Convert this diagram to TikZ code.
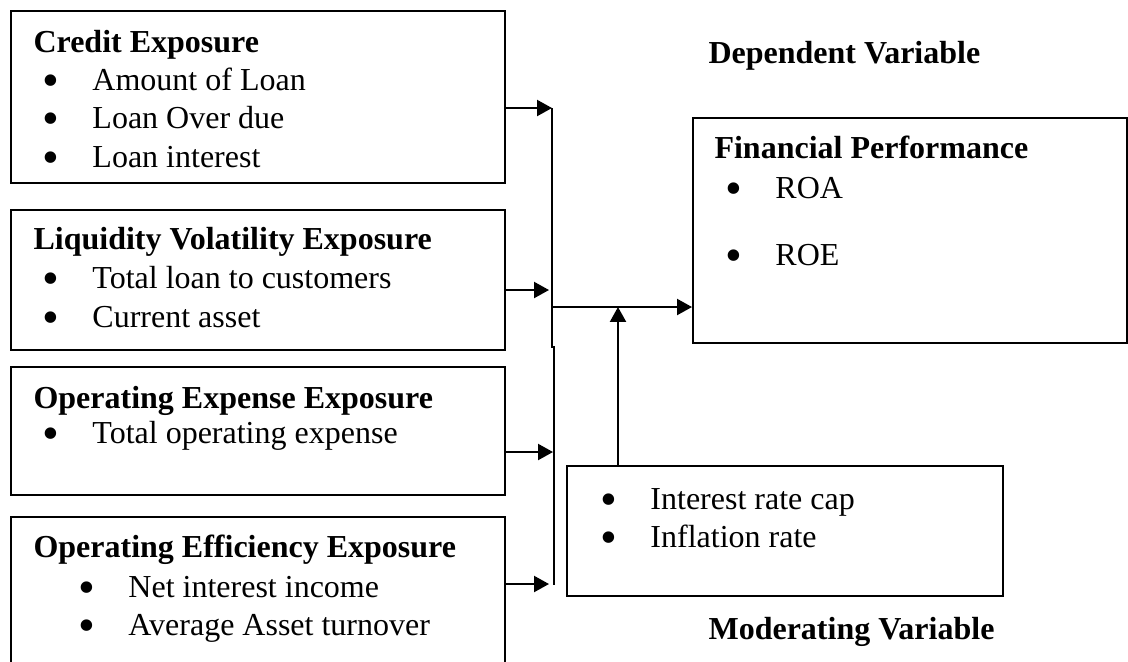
\documentclass[tikz,border=0pt]{standalone}
\usepackage{fontspec}
\setmainfont{Liberation Serif}
\usetikzlibrary{arrows.meta,fit}
\newcommand\blt{\makebox[17.6pt][l]{\hspace{-1.2pt}\smash{\raisebox{-2.4pt}{\scalebox{1.5}{\textbullet}}}}}

\begin{document}
\begin{tikzpicture}[x=0.375pt,y=-0.375pt,
    box/.style={draw,line width=0.75pt,inner sep=0pt},
    txt/.style={anchor=base west,inner sep=0pt,font=\fontsize{12}{14}\selectfont},
    head/.style={txt,font=\fontsize{12}{14}\selectfont\bfseries},
    arr/.style={line width=0.75pt,-{Triangle[length=5.6pt,width=6pt]}}]
    \useasboundingbox (0,0) rectangle (1128,661);
    % independent variables
    \node[box,fit={(11,11) (505,183)}] (credit) {};
    \node[head] (creditT) at (33,52) {Credit Exposure};
    \node[txt] (credit1) at (45,90) {\blt Amount of Loan};
    \node[txt] (credit2) at (45,128) {\blt Loan Over due};
    \node[txt] (credit3) at (45,167) {\blt Loan interest};

    \node[box,fit={(11,210) (505,350)}] (liq) {};
    \node[head] (liqT) at (33,249) {Liquidity Volatility Exposure};
    \node[txt] (liq1) at (45,288) {\blt Total loan to customers};
    \node[txt] (liq2) at (45,327) {\blt Current asset};

    \node[box,fit={(11,367) (505,495)}] (opex) {};
    \node[head] (opexT) at (33,408) {Operating Expense Exposure};
    \node[txt] (opex1) at (45,443) {\blt Total operating expense};

    \node[box,fit={(11,517) (505,700)}] (opeff) {};
    \node[head] (opeffT) at (33,557) {Operating Efficiency Exposure};
    \node[txt] (opeff1) at (81,597) {\blt Net interest income};
    \node[txt] (opeff2) at (81,635) {\blt Average Asset turnover};

    % dependent variable
    \node[head] (depT) at (708,63) {Dependent Variable};
    \node[box,fit={(693,118) (1127,343)}] (perf) {};
    \node[head] (perfT) at (714,158) {Financial Performance};
    \node[txt] (perf1) at (728,198) {\blt ROA};
    \node[txt] (perf2) at (728,265) {\blt ROE};

    % moderating variable
    \node[box,fit={(567,466) (1003,596)}] (moder) {};
    \node[txt] (moder1) at (603,509) {\blt Interest rate cap};
    \node[txt] (moder2) at (603,547) {\blt Inflation rate};
    \node[head] (moderT) at (708,639) {Moderating Variable};

    % connectors
    \coordinate (bus1) at (552,108);
    \coordinate (bus2) at (549,290);
    \coordinate (bus3) at (553,452);
    \coordinate (bus4) at (549,584);
    \coordinate (busbend) at (552,347);
    \coordinate (busend) at (554,585);
    \coordinate (join) at (552,307);
    \coordinate (modin) at (618,307);
    \draw[line width=0.75pt] (bus1) -- (busbend) -| (busend);
    \draw[arr] (credit.east |- bus1) -- (bus1);
    \draw[arr] (liq.east |- bus2) -- (bus2);
    \draw[arr] (opex.east |- bus3) -- (bus3);
    \draw[arr] (opeff.east |- bus4) -- (bus4);
    \draw[arr] (join) -- (perf.west |- join);
    \draw[arr] (moder.north -| modin) -- (modin);
\end{tikzpicture}
\end{document}
